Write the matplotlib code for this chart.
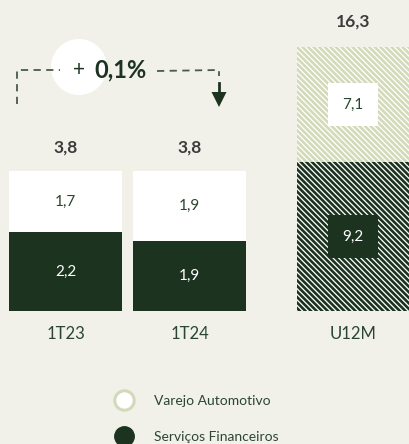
import matplotlib
matplotlib.use("Agg")
import matplotlib.pyplot as plt
from matplotlib.lines import Line2D
from matplotlib.patches import Circle, Polygon

plt.rcParams['font.family'] = ['Lato', 'DejaVu Sans']
plt.rcParams['hatch.linewidth'] = 1.9

# data (segment heights, labels as printed)
quarters = ["1T23", "1T24"]
servicos_q = [2.14, 1.90]
varejo_q = [1.66, 1.90]
servicos_q_lbl = ["2,2", "1,9"]
varejo_q_lbl = ["1,7", "1,9"]
totais_q = ["3,8", "3,8"]

periodo = ["U12M"]
servicos_u = [9.2]
varejo_u = [7.1]
servicos_u_lbl = ["9,2"]
varejo_u_lbl = ["7,1"]
total_u = "16,3"

variacao = "0,1%"

BG = "#F1F1EA"
DARK = "#1C3320"
LIGHT = "#D3DAB9"
TXT = "#3C3C3C"
LBL = "#2B4630"

W, H = 409, 444
fig = plt.figure(figsize=(W / 100, H / 100), dpi=100, facecolor=BG)


def fx(px):
    return px / W


def fy(py):
    return 1 - py / H


# quarterly bars
ax = fig.add_axes([0, fy(311), fx(260), fy(0) - fy(311)])
ax.set_facecolor("none")
x = [0, 1]
ax.bar(x, servicos_q, width=0.91, color=DARK)
ax.bar(x, varejo_q, bottom=servicos_q, width=0.91, color="white")
ax.set_xlim(-65.5 / 124, (260 - 65.5) / 124)
ax.set_ylim(0, 311 / (140 / 3.8))
for i in x:
    ax.text(i, servicos_q[i] / 2, servicos_q_lbl[i], ha="center", va="center",
            color="white", fontsize=11)
    ax.text(i, servicos_q[i] + varejo_q[i] / 2, varejo_q_lbl[i], ha="center",
            va="center", color=LBL, fontsize=11)
    ax.text(i, servicos_q[i] + varejo_q[i] + 0.65, totais_q[i], ha="center",
            va="center", color=TXT, fontsize=12.5, fontweight="bold")
    ax.text(i, -0.63, quarters[i], ha="center", va="center", color=LBL,
            fontsize=12, clip_on=False)
ax.axis("off")

# last twelve months bar
ax2 = fig.add_axes([fx(297), fy(311), fx(112), fy(0) - fy(311)])
ax2.set_facecolor("none")
ax2.bar([0], servicos_u, width=1, color="white", edgecolor=DARK, hatch="\\" * 6,
        linewidth=0)
ax2.bar([0], varejo_u, bottom=servicos_u, width=1, color="white", edgecolor=LIGHT,
        hatch="\\" * 6, linewidth=0)
ax2.set_xlim(-0.5, 0.5)
ax2.set_ylim(0, 311 / (264 / 16.3))
ax2.text(0, servicos_u[0] / 2, servicos_u_lbl[0], ha="center", va="center",
         color="white", fontsize=11,
         bbox=dict(boxstyle="square,pad=0.95", fc=DARK, ec="none"))
ax2.text(0, servicos_u[0] + varejo_u[0] / 2, varejo_u_lbl[0], ha="center",
         va="center", color=LBL, fontsize=11,
         bbox=dict(boxstyle="square,pad=0.95", fc="white", ec="none"))
ax2.text(0, servicos_u[0] + varejo_u[0] + 1.55, total_u, ha="center", va="center",
         color=TXT, fontsize=12.5, fontweight="bold")
ax2.text(0, -1.43, periodo[0], ha="center", va="center", color=LBL,
         fontsize=12, clip_on=False)
ax2.axis("off")

# variation callout
ov = fig.add_axes([0, 0, 1, 1])
ov.set_xlim(0, W)
ov.set_ylim(H, 0)
ov.axis("off")
ov.patch.set_alpha(0)
dash = dict(color="#4A5A4A", lw=1.3, ls=(0, (4, 3)))
ov.plot([17, 17, 60], [104, 70, 70], **dash)
ov.plot([157, 219, 219], [71, 70, 76], **dash)
ov.add_patch(Circle((79, 67), 28, fc="white", ec="none"))
ov.plot([219, 219], [83, 94], color=DARK, lw=2)
ov.add_patch(Polygon([[211.5, 92], [226.5, 92], [219, 107]], closed=True,
                     fc=DARK, ec="none"))
ov.text(85, 70, "+", ha="right", va="center", color=DARK, fontsize=15)
ov.text(94, 70, variacao, ha="left", va="center", color=DARK, fontsize=17,
        fontweight="bold")

# legend
handles = [
    Line2D([], [], ls="none", marker="o", markersize=14, markerfacecolor="white",
           markeredgecolor=LIGHT, markeredgewidth=2.2, label="Varejo Automotivo"),
    Line2D([], [], ls="none", marker="o", markersize=14, markerfacecolor=DARK,
           markeredgecolor=DARK, label="Serviços Financeiros"),
]
leg = fig.legend(handles=handles, loc="upper left",
                 bbox_to_anchor=(fx(103), fy(388)), frameon=False,
                 fontsize=10, labelspacing=1.7, handletextpad=1.2,
                 borderpad=0)
for t in leg.get_texts():
    t.set_color(LBL)

fig.savefig("out.png", dpi=100, facecolor=BG)
